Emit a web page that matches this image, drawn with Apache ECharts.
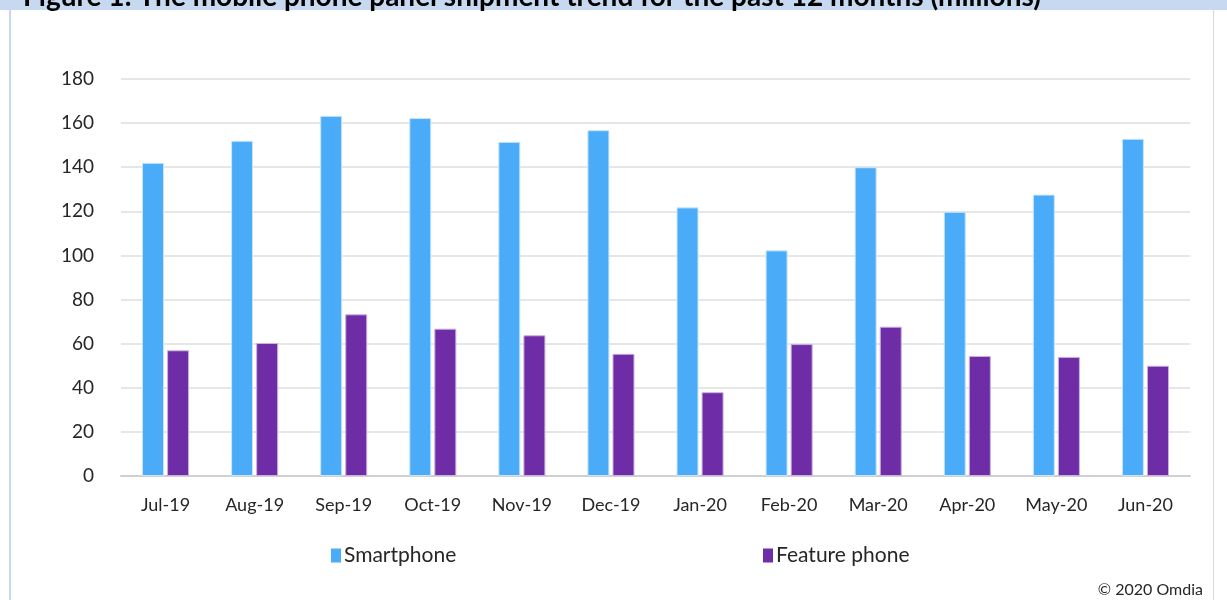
<!DOCTYPE html>
<html><head><meta charset="utf-8">
<script src="https://cdn.jsdelivr.net/npm/echarts@6/dist/echarts.min.js"></script>
<style>html,body{margin:0;padding:0;background:#fff}#c{width:1227px;height:600px}</style>
</head><body><div id="c"></div>
<script>
const titleText = 'Figure 1: The mobile phone panel shipment trend for the past 12 months (millions)';
const categories = ['Jul-19','Aug-19','Sep-19','Oct-19','Nov-19','Dec-19','Jan-20','Feb-20','Mar-20','Apr-20','May-20','Jun-20'];
const smartphone = [142, 152, 163.3, 162.3, 151.5, 156.8, 121.8, 102.3, 140, 119.8, 127.6, 152.9];
const featurePhone = [57, 60.3, 73.3, 66.8, 63.8, 55.4, 38, 59.8, 67.7, 54.4, 54, 50];
const yTicks = {min: 0, max: 180, interval: 20};
const credit = '© 2020 Omdia';

const font = 'Lato, "Open Sans", sans-serif';
const chart = echarts.init(document.getElementById('c'), null, {renderer: 'canvas'});
chart.setOption({
  animation: false,
  backgroundColor: '#ffffff',
  grid: {left: 121, right: 37, top: 79, bottom: 124, containLabel: false},
  legend: [
    {data: [{name: 'Smartphone', icon: 'rect'}], left: 331, top: 545, padding: 0, itemWidth: 10, itemHeight: 14, itemGap: 0,
     itemStyle: {borderWidth: 0},
     textStyle: {fontFamily: font, fontSize: 21, color: '#262626', padding: [0,0,0,-2]}},
    {data: [{name: 'Feature phone', icon: 'rect'}], left: 763, top: 545, padding: 0, itemWidth: 10, itemHeight: 14, itemGap: 0,
     itemStyle: {borderWidth: 0},
     textStyle: {fontFamily: font, fontSize: 21, color: '#262626', padding: [0,0,0,-2]}}
  ],
  xAxis: {
    type: 'category', data: categories,
    axisLine: {lineStyle: {color: '#d0d0d0', width: 2}},
    axisTick: {show: false},
    axisLabel: {fontFamily: font, fontSize: 18, color: '#262626', margin: 20}
  },
  yAxis: {
    type: 'value', min: yTicks.min, max: yTicks.max, interval: yTicks.interval,
    axisLine: {show: false}, axisTick: {show: false},
    splitLine: {lineStyle: {color: '#e6e6e6', width: 2}},
    axisLabel: {fontFamily: font, fontSize: 19, color: '#262626', margin: 27}
  },
  series: [
    {name: 'Smartphone', type: 'bar', data: smartphone, barWidth: 22, barGap: '14%',
     itemStyle: {color: '#4aacf8', borderColor: '#c9e5fc', borderWidth: 1}},
    {name: 'Feature phone', type: 'bar', data: featurePhone, barWidth: 22,
     itemStyle: {color: '#6e2ca6', borderColor: '#c8b2dc', borderWidth: 1}}
  ],
  graphic: [
    {type: 'rect', left: 0, top: 0, shape: {width: 1227, height: 10}, style: {fill: '#c6d9f1'}, z: 10},
    {type: 'line', shape: {x1: 10, y1: 10, x2: 10, y2: 600}, style: {stroke: '#c6d9f1', lineWidth: 2}, z: 10},
    {type: 'line', shape: {x1: 1213.5, y1: 10, x2: 1213.5, y2: 600}, style: {stroke: '#d9d9d9', lineWidth: 1}, z: 10},
    {type: 'text', x: 23, y: -17, style: {text: titleText, fontFamily: 'Lato, sans-serif', fontWeight: 'bold', fontSize: 28, fill: '#000'}, z: 11},
    {type: 'text', right: 24, top: 582, style: {text: credit, fontFamily: font, fontSize: 16, fill: '#262626'}, z: 11}
  ]
});
</script></body></html>
